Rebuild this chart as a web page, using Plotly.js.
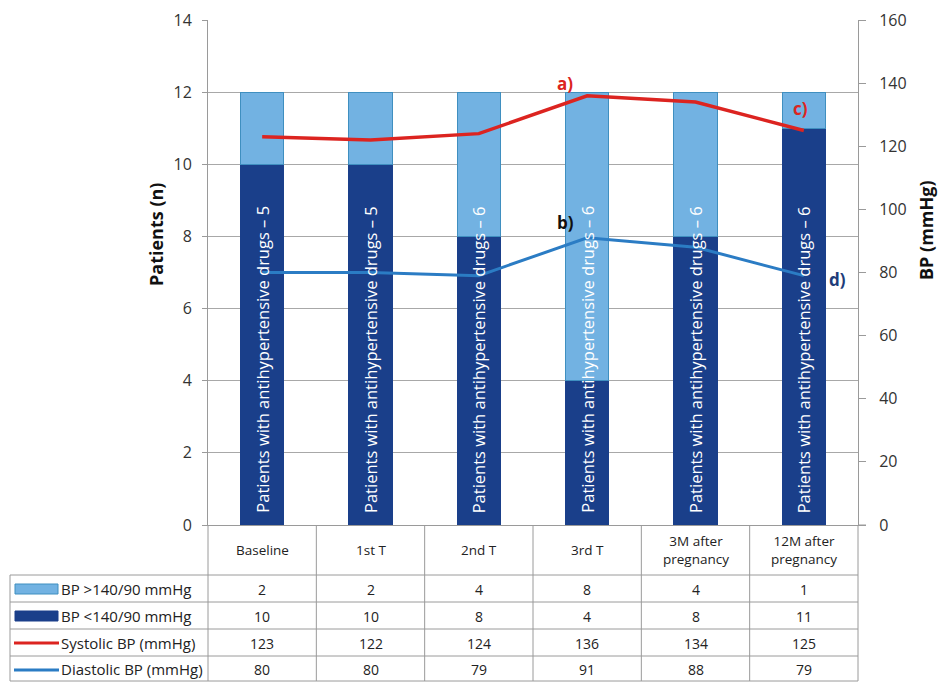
<!DOCTYPE html>
<html>
<head>
<meta charset="utf-8">
<script src="https://cdn.plot.ly/plotly-3.0.1.min.js"></script>
<style>html,body{margin:0;padding:0;background:#fff;}#chart{width:952px;height:682px;}</style>
</head>
<body>
<div id="chart"></div>
<script>
const categories = ['Baseline', '1st T', '2nd T', '3rd T', '3M after pregnancy', '12M after pregnancy'];
const headerLabels = ['Baseline', '1st T', '2nd T', '3rd T', '3M after<br>pregnancy', '12M after<br>pregnancy'];
const bpAbove = [2, 2, 4, 8, 4, 1];
const bpBelow = [10, 10, 8, 4, 8, 11];
const systolic = [123, 122, 124, 136, 134, 125];
const diastolic = [80, 80, 79, 91, 88, 79];
const drugCounts = [5, 5, 6, 6, 6, 6];
const seriesNames = ['BP >140/90 mmHg', 'BP <140/90 mmHg', 'Systolic BP (mmHg)', 'Diastolic BP (mmHg)'];

const DARK = '#1a3f8a', LIGHT = '#72b2e2', RED = '#dc2420', BLUE = '#2b7cc4';
const GRID = '#a8a8a8';
const L = 208, R = 858, T = 20, B = 525;
const X = px => (px - L) / (R - L);
const Y = py => (B - py) / (B - T);

const traces = [
  {type: 'bar', name: seriesNames[1], x: categories, y: bpBelow, marker: {color: DARK, line: {color: '#1a3f8a', width: 1}}, hoverinfo: 'none'},
  {type: 'bar', name: seriesNames[0], x: categories, y: bpAbove, marker: {color: LIGHT, line: {color: '#3f8fc0', width: 1}}, hoverinfo: 'none'},
  {type: 'scatter', mode: 'lines', name: seriesNames[2], x: categories, y: systolic, yaxis: 'y2', line: {color: RED, width: 3.5}, hoverinfo: 'none'},
  {type: 'scatter', mode: 'lines', name: seriesNames[3], x: categories, y: diastolic, yaxis: 'y2', line: {color: BLUE, width: 3}, hoverinfo: 'none'}
];

const tickFont = {family: 'Open Sans, sans-serif', size: 16, color: '#333'};
const tblFont = {family: 'Open Sans, Arial, sans-serif', size: 14, color: '#222'};
const legFont = {family: 'Open Sans, Arial, sans-serif', size: 15, color: '#222'};

const shapes = [];
const annotations = [];
function hline(y, x0, x1) { shapes.push({type: 'line', xref: 'paper', yref: 'paper', x0: X(x0), x1: X(x1), y0: Y(y), y1: Y(y), line: {color: '#9a9a9a', width: 1}}); }
function vline(x, y0, y1) { shapes.push({type: 'line', xref: 'paper', yref: 'paper', x0: X(x), x1: X(x), y0: Y(y0), y1: Y(y1), line: {color: '#9a9a9a', width: 1}}); }

// table grid
const rowLines = [575, 602, 629, 656, 681];
rowLines.forEach(y => hline(y, 10, R));
const colW = (R - L) / categories.length;
for (let i = 0; i <= categories.length; i++) vline(L + i * colW, B, 681);
vline(10, 575, 681);
hline(B, R, 866);

// header labels
headerLabels.forEach((h, i) => annotations.push({xref: 'x', yref: 'paper', x: categories[i], y: Y(550), text: h, showarrow: false, font: {family: 'Open Sans, Arial, sans-serif', size: 13.5, color: '#222'}, xanchor: 'center', yanchor: 'middle'}));
// table rows
const rows = [bpAbove, bpBelow, systolic, diastolic];
const rowCenters = [589, 616, 643, 669];
rows.forEach((vals, r) => {
  vals.forEach((v, i) => annotations.push({xref: 'x', yref: 'paper', x: categories[i], y: Y(rowCenters[r]), text: String(v), showarrow: false, font: tblFont, xanchor: 'center', yanchor: 'middle'}));
  annotations.push({xref: 'paper', yref: 'paper', x: X(59), y: Y(rowCenters[r]), text: seriesNames[r], showarrow: false, font: legFont, xanchor: 'left', yanchor: 'middle'});
});
// legend swatches
shapes.push({type: 'rect', xref: 'paper', yref: 'paper', x0: X(15), x1: X(58), y0: Y(584), y1: Y(594), fillcolor: LIGHT, line: {color: '#3f8fc0', width: 1}});
shapes.push({type: 'rect', xref: 'paper', yref: 'paper', x0: X(15), x1: X(58), y0: Y(611), y1: Y(621), fillcolor: DARK, line: {color: DARK, width: 1}});
shapes.push({type: 'line', xref: 'paper', yref: 'paper', x0: X(14), x1: X(59), y0: Y(643), y1: Y(643), line: {color: RED, width: 3}});
shapes.push({type: 'line', xref: 'paper', yref: 'paper', x0: X(14), x1: X(59), y0: Y(670), y1: Y(670), line: {color: BLUE, width: 3}});

// in-bar text
drugCounts.forEach((n, i) => annotations.push({xref: 'x', yref: 'y', x: categories[i], y: 0, yshift: 10, text: 'Patients with antihypertensive drugs – ' + n, textangle: -90, showarrow: false, xanchor: 'center', yanchor: 'bottom', font: {family: 'Open Sans, sans-serif', size: 16.5, color: '#ffffff'}}));

// letter labels
const lblFont = (c) => ({family: 'Open Sans, sans-serif', size: 17, color: c, weight: 'bold'});
annotations.push({xref: 'x', yref: 'y2', x: categories[3], y: systolic[3], xshift: -22, yshift: 12, text: '<b>a)</b>', showarrow: false, font: lblFont(RED)});
annotations.push({xref: 'x', yref: 'y2', x: categories[3], y: diastolic[3], xshift: -22, yshift: 15, text: '<b>b)</b>', showarrow: false, font: lblFont('#111')});
annotations.push({xref: 'x', yref: 'y2', x: categories[5], y: systolic[5], xshift: -3, yshift: 22, text: '<b>c)</b>', showarrow: false, font: lblFont(RED)});
annotations.push({xref: 'x', yref: 'y2', x: categories[5], y: diastolic[5], xshift: 34, yshift: -4, text: '<b>d)</b>', showarrow: false, font: lblFont('#1f3d7a')});

// axis titles
annotations.push({xref: 'paper', yref: 'paper', x: X(142), y: Y(235), text: '<b>Patients (n)</b>', textangle: -90, showarrow: false, font: {family: 'Open Sans, sans-serif', size: 18, color: '#111'}});
annotations.push({xref: 'paper', yref: 'paper', x: X(940), y: Y(230), text: '<b>BP (mmHg)</b>', textangle: -90, showarrow: false, font: {family: 'Open Sans, sans-serif', size: 18, color: '#111'}});

const layout = {
  width: 952, height: 682,
  margin: {l: L, r: 952 - R, t: T, b: 682 - B, pad: 0},
  paper_bgcolor: '#fff', plot_bgcolor: '#fff',
  barmode: 'stack', bargap: 0.6,
  showlegend: false,
  xaxis: {type: 'category', range: [-0.5, 5.5], showticklabels: false, showgrid: false, zeroline: false, showline: true, linecolor: '#9a9a9a', ticks: ''},
  yaxis: {range: [0, 14], dtick: 2, tick0: 0, showgrid: true, gridcolor: GRID, gridwidth: 1, zeroline: false, showline: true, linecolor: '#9a9a9a', ticks: 'outside', ticklen: 5, tickcolor: '#9a9a9a', tickfont: tickFont, ticklabelstandoff: 7},
  yaxis2: {overlaying: 'y', side: 'right', range: [0, 160], dtick: 20, tick0: 0, showgrid: false, zeroline: false, showline: true, linecolor: '#9a9a9a', ticks: 'outside', ticklen: 7, tickcolor: '#9a9a9a', tickfont: tickFont, ticklabelstandoff: 10},
  shapes: shapes,
  annotations: annotations
};

Plotly.newPlot('chart', traces, layout, {displayModeBar: false, staticPlot: true});
</script>
</body>
</html>
